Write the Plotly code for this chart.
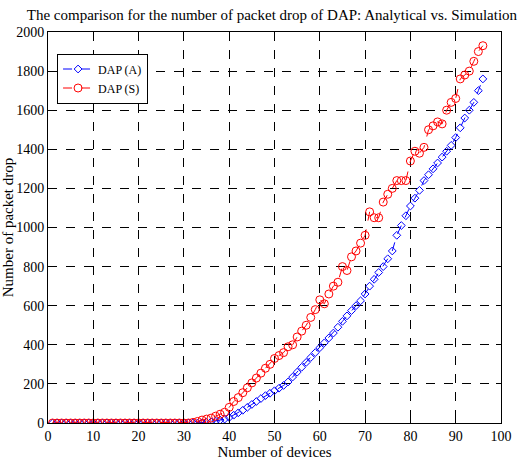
import plotly.graph_objects as go

devices = list(range(1, 97))

dap_a = [0]*33 + [
    1, 3, 6, 10, 15, 20, 28, 40, 52, 65, 80, 95, 110, 125, 140, 152, 165, 178, 192, 210,
    235, 260, 285, 310, 335, 360, 385, 410, 435, 460, 490, 520, 548, 575, 600, 625,
    660, 700, 735, 770, 800, 840, 880, 960, 1010, 1060, 1110, 1150, 1190, 1240, 1270,
    1300, 1330, 1360, 1390, 1420, 1460, 1510, 1560, 1600, 1640, 1700, 1760]

dap_s = [0]*31 + [
    3, 8, 15, 20, 25, 35, 45, 55, 80, 110, 130, 155, 180, 205, 230, 255, 280, 300, 330,
    345, 360, 390, 400, 440, 470, 500, 540, 580, 630, 610, 660, 700, 720, 800, 780,
    850, 880, 920, 960, 1080, 1050, 1050, 1130, 1170, 1200, 1240, 1240, 1240, 1340,
    1390, 1380, 1410, 1500, 1520, 1540, 1530, 1600, 1640, 1660, 1760, 1780, 1800,
    1850, 1900, 1930]

x_ticks = list(range(0, 101, 10))
y_ticks = list(range(0, 2001, 200))

font = "Liberation Serif, Times New Roman, Times, serif"

fig = go.Figure()
fig.add_trace(go.Scatter(
    x=devices, y=dap_a, name="DAP (A)", mode="lines+markers",
    line=dict(color="blue", width=1, dash="dash"),
    marker=dict(symbol="diamond-open", size=6, color="blue", line=dict(width=1))))
fig.add_trace(go.Scatter(
    x=devices, y=dap_s, name="DAP (S)", mode="lines+markers",
    line=dict(color="red", width=1, dash="dash"),
    marker=dict(symbol="circle-open", size=8, color="red", line=dict(width=1))))

axis_common = dict(
    showgrid=True, gridcolor="black", griddash="dash", gridwidth=1,
    showline=True, linecolor="black", linewidth=1, mirror="ticks",
    ticks="inside", ticklen=5, tickcolor="black", zeroline=False, automargin=False,
    tickfont=dict(family=font, size=14, color="black"))

fig.update_xaxes(range=[0, 100], tickvals=x_ticks, title=dict(text="Number of devices", standoff=0,
                 font=dict(family=font, size=15, color="black")), **axis_common)
fig.update_yaxes(range=[0, 2000], tickvals=y_ticks, title=dict(text="Number of packet drop", standoff=2,
                 font=dict(family=font, size=15, color="black")), **axis_common)

fig.update_layout(
    width=518, height=460,
    margin=dict(l=48, r=17, t=32, b=37),
    paper_bgcolor="white", plot_bgcolor="white",
    font=dict(family=font),
    title=dict(text="The comparison for the number of packet drop of DAP: Analytical vs. Simulation",
               x=0.525, xanchor="center", y=0.967, yanchor="middle",
               font=dict(family=font, size=15, color="black")),
    legend=dict(x=0.02, y=0.945, xanchor="left", yanchor="top",
                bordercolor="black", borderwidth=1, bgcolor="white",
                font=dict(family=font, size=12, color="black"),
                itemwidth=30, tracegroupgap=0),
    showlegend=True,
)

fig.write_html("out.html")
